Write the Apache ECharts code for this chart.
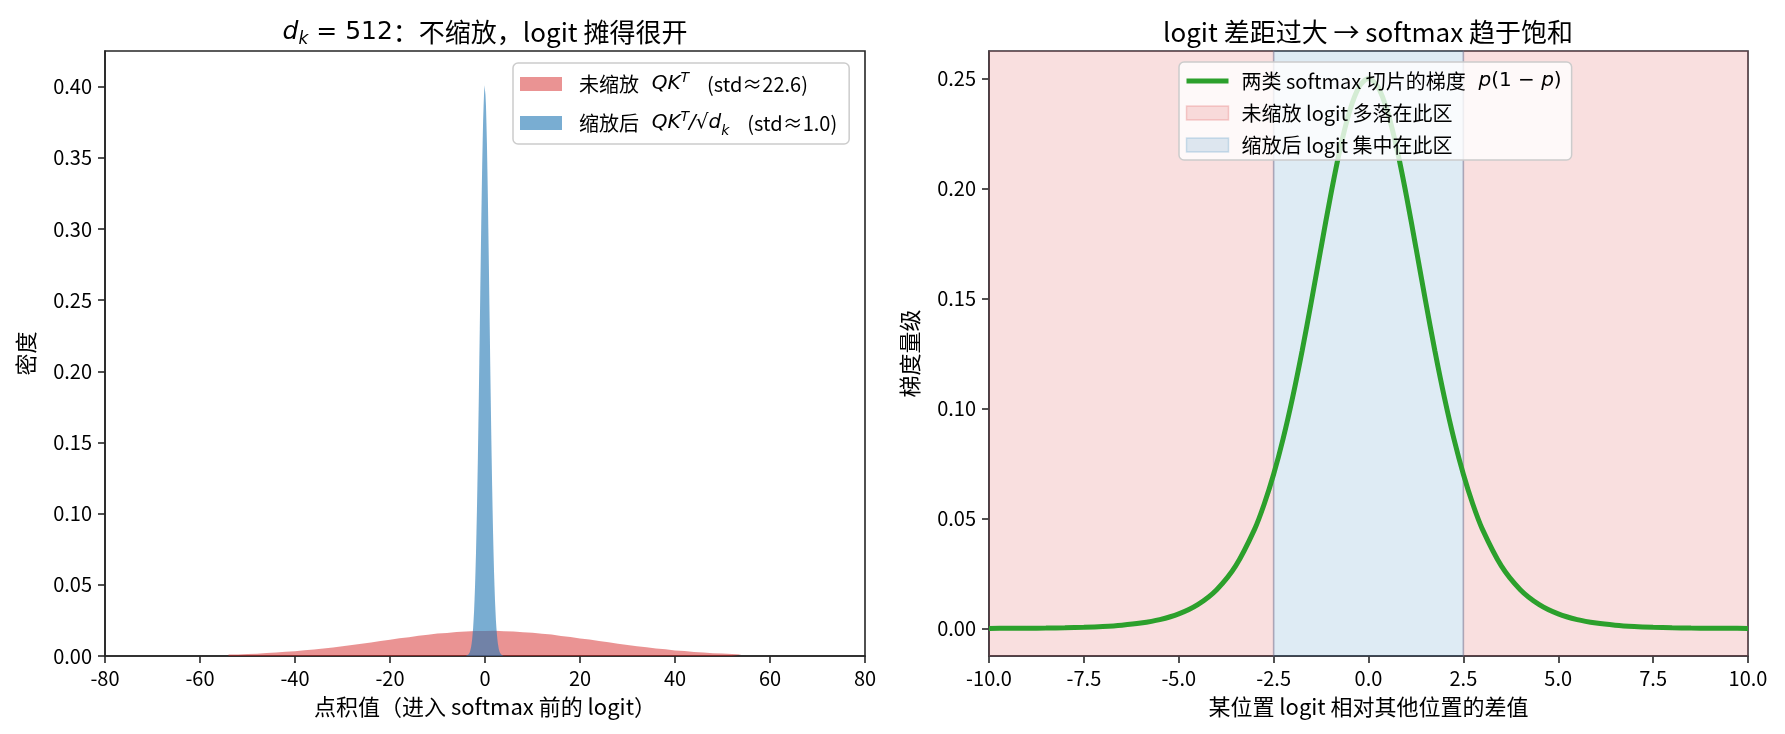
<!DOCTYPE html>
<html>
<head>
<meta charset="utf-8">
<script src="https://cdn.jsdelivr.net/npm/echarts@6/dist/echarts.min.js"></script>
<style>
html,body{margin:0;padding:0;background:#fff;}
#chart{width:1785px;height:734px;}
</style>
</head>
<body>
<div id="chart"></div>
<script>
// ---------- data ----------
// Left: histogram of unscaled QK^T (bin width 2, first bin edge -54)
const redBinStart = -54;
const redBinWidth = 2;
const redDensity = [
  0.00110,0.00140,0.00165,0.00205,0.00240,0.00292,0.00338,0.00401,0.00458,0.00535,
  0.00604,0.00693,0.00770,0.00869,0.00951,0.01058,0.01141,0.01245,0.01324,0.01421,
  0.01490,0.01573,0.01624,0.01689,0.01715,0.01756,0.01760,
  0.01767,0.01744,0.01728,0.01676,0.01636,0.01561,0.01503,0.01410,0.01337,0.01234,
  0.01152,0.01046,0.00963,0.00860,0.00781,0.00684,0.00612,0.00527,0.00466,0.00394,
  0.00343,0.00286,0.00246,0.00200,0.00170,0.00136,0.00112
];
// Left: histogram of scaled QK^T/sqrt(d_k) (bin width 0.1, first bin edge -4)
const blueBinStart = -4;
const blueBinWidth = 0.1;
const blueDensity = [
  0.0001,0.0002,0.0003,0.0005,0.0007,0.0010,0.0016,0.0021,0.0027,0.0039,
  0.0052,0.0068,0.0092,0.0118,0.0156,0.0197,0.0254,0.0315,0.0397,0.0486,
  0.0598,0.0719,0.0866,0.1021,0.1203,0.1391,0.1608,0.1822,0.2063,0.2295,
  0.2546,0.2776,0.3016,0.3226,0.3433,0.3601,0.3757,0.3861,0.3950,0.4010,
  0.3975,0.3941,0.3870,0.3748,0.3609,0.3425,0.3234,0.3007,0.2784,0.2537,
  0.2302,0.2055,0.1829,0.1600,0.1397,0.1197,0.1026,0.0860,0.0723,0.0594,
  0.0490,0.0393,0.0319,0.0250,0.0199,0.0154,0.0120,0.0090,0.0070,0.0050,
  0.0038,0.0027,0.0020,0.0014,0.0010,0.0007,0.0004,0.0003,0.0002,0.0001
];
// Right: gradient curve p(1-p)
const gradX = [-10,-9.5,-9,-8.5,-8,-7.5,-7,-6.5,-6,-5.5,-5,-4.5,-4,-3.5,-3,-2.75,-2.5,-2.25,-2,-1.75,-1.5,-1.25,-1,-0.75,-0.5,-0.25,0,
  0.25,0.5,0.75,1,1.25,1.5,1.75,2,2.25,2.5,2.75,3,3.5,4,4.5,5,5.5,6,6.5,7,7.5,8,8.5,9,9.5,10];
const gradY = [0.00005,0.00007,0.00012,0.00020,0.00034,0.00055,0.00091,0.00150,0.00247,0.00405,0.00665,0.01087,0.01766,0.02845,0.04518,0.05648,0.07011,0.08626,0.10499,0.12613,0.14915,0.17310,0.19661,0.21789,0.23500,0.24613,0.25000,
  0.24613,0.23500,0.21789,0.19661,0.17310,0.14915,0.12613,0.10499,0.08626,0.07011,0.05648,0.04518,0.02845,0.01766,0.01087,0.00665,0.00405,0.00247,0.00150,0.00091,0.00055,0.00034,0.00020,0.00012,0.00007,0.00005];
// Right: shaded regions [from, to]
const wideSpans = [[-10,-2.5],[2.5,10]];
const narrowSpans = [[-2.5,2.5]];
// tick labels
const leftYTicks = [0,0.05,0.10,0.15,0.20,0.25,0.30,0.35,0.40];
const rightYTicks = [0,0.05,0.10,0.15,0.20,0.25];

// ---------- names ----------
const N_RED = '未缩放 QKᵀ (std≈22.6)';
const N_BLUE = '缩放后 QKᵀ/√dₖ (std≈1.0)';
const N_GRAD = '两类 softmax 切片的梯度 p(1−p)';
const N_WIDE = '未缩放 logit 多落在此区';
const N_NARROW = '缩放后 logit 集中在此区';

const FF = "'Noto Sans CJK SC', 'DejaVu Sans', sans-serif";
const MF = "'DejaVu Sans', sans-serif";
const INK = '#262626';

function stepData(start, w, arr){
  const d = arr.map((v,i)=>[start + i*w, v]);
  d.push([start + arr.length*w, arr[arr.length-1]]);
  return d;
}
function spanRender(fill, stroke){
  return function(params, api){
    const cs = params.coordSys;
    const a = api.coord([api.value(0), 0]);
    const b = api.coord([api.value(1), 0]);
    return {type:'rect', shape:{x:a[0], y:cs.y, width:b[0]-a[0], height:cs.height},
            style:{fill:fill, stroke:stroke, lineWidth:1.5}};
  };
}

const legendRichL = {
  g:{width:12, fontSize:20, lineHeight:30},
  c:{fontFamily:FF, fontSize:20, lineHeight:30, color:'#000'},
  m:{fontFamily:MF, fontStyle:'italic', fontSize:20, lineHeight:30, color:'#000'},
  sup:{fontFamily:MF, fontStyle:'italic', fontSize:14, lineHeight:16, verticalAlign:'top', padding:[2,0,0,0], color:'#000'},
  sub:{fontFamily:MF, fontStyle:'italic', fontSize:14, lineHeight:16, verticalAlign:'bottom', color:'#000'},
  r:{fontFamily:MF, fontSize:20, lineHeight:30, color:'#000'},
  t:{fontFamily:FF, fontSize:20, lineHeight:30, color:'#000'}
};
const legendTextL = {};
legendTextL[N_RED] = '{g| }{c|未缩放}{m|  QK}{sup|T}{t|    (std≈22.6)}';
legendTextL[N_BLUE] = '{g| }{c|缩放后}{m|  QK}{sup|T}{m|/}{r|√}{m|d}{sub|k}{t|    (std≈1.0)}';

const legendRichR = {
  g:{width:8, fontSize:20, lineHeight:26},
  c:{fontFamily:FF, fontSize:20, lineHeight:26, color:'#000'},
  mi:{fontFamily:MF, fontStyle:'italic', fontSize:20, lineHeight:26, color:'#000'},
  m:{fontFamily:MF, fontSize:20, lineHeight:26, color:'#000'}
};
const legendTextR = {};
legendTextR[N_GRAD] = '{g| }{c|两类 softmax 切片的梯度}{m|  }{mi|p}{m|(1 − }{mi|p}{m|)}';
legendTextR[N_WIDE] = '{g| }{c|未缩放 logit 多落在此区}';
legendTextR[N_NARROW] = '{g| }{c|缩放后 logit 集中在此区}';

const axisCommon = {
  axisLine:{show:true, onZero:false, lineStyle:{color:INK, width:1.6}},
  axisTick:{show:true, inside:false, length:7, lineStyle:{color:INK, width:1.6}},
  splitLine:{show:false},
  nameTextStyle:{fontFamily:FF, fontSize:22, color:'#000'}
};

const chart = echarts.init(document.getElementById('chart'), null, {renderer:'canvas'});
chart.setOption({
  animation:false,
  backgroundColor:'#ffffff',
  title:[
    {text:'{mi|d}{sub|k}{m| = 512}{c|：不缩放，logit 摊得很开}', left:485, top:16, padding:0, textAlign:'center',
     textStyle:{fontFamily:FF, fontSize:26, fontWeight:'normal', color:'#000', rich:{
       mi:{fontFamily:MF, fontStyle:'italic', fontWeight:'normal', fontSize:25, lineHeight:32, color:'#000'},
       sub:{fontFamily:MF, fontStyle:'italic', fontWeight:'normal', fontSize:17, lineHeight:20, verticalAlign:'bottom', color:'#000'},
       m:{fontFamily:MF, fontWeight:'normal', fontSize:25, lineHeight:32, color:'#000'},
       c:{fontFamily:FF, fontWeight:'normal', fontSize:26, lineHeight:32, color:'#000'}}}},
    {text:'logit 差距过大 → softmax 趋于饱和', left:1368, top:16, padding:0, textAlign:'center',
     textStyle:{fontFamily:FF, fontSize:26, fontWeight:'normal', color:'#000', lineHeight:32}}
  ],
  grid:[
    {left:105, top:51, width:760, height:605, show:true, borderColor:INK, borderWidth:1.6, backgroundColor:'transparent', containLabel:false},
    {left:989, top:51, width:759, height:605, show:true, borderColor:INK, borderWidth:1.6, backgroundColor:'transparent', containLabel:false}
  ],
  xAxis:[
    Object.assign({}, axisCommon, {type:'value', gridIndex:0, min:-80, max:80, interval:20,
      name:'点积值（进入 softmax 前的 logit）', nameLocation:'middle', nameGap:40,
      axisLabel:{fontFamily:FF, fontSize:20, color:'#000', margin:12, formatter:v=>String(v)}}),
    Object.assign({}, axisCommon, {type:'value', gridIndex:1, min:-10, max:10, interval:2.5,
      name:'某位置 logit 相对其他位置的差值', nameLocation:'middle', nameGap:40,
      axisLabel:{fontFamily:FF, fontSize:20, color:'#000', margin:12, formatter:v=>v.toFixed(1)}})
  ],
  yAxis:[
    Object.assign({}, axisCommon, {type:'value', gridIndex:0, min:0, max:0.425,
      name:'密度', nameLocation:'middle', nameGap:68,
      axisTick:{show:true, length:7, customValues:leftYTicks, lineStyle:{color:INK, width:1.6}},
      axisLabel:{fontFamily:FF, fontSize:20, color:'#000', margin:13, customValues:leftYTicks, formatter:v=>v.toFixed(2)}}),
    Object.assign({}, axisCommon, {type:'value', gridIndex:1, min:-0.0125, max:0.2625,
      name:'梯度量级', nameLocation:'middle', nameGap:68,
      axisTick:{show:true, length:7, customValues:rightYTicks, lineStyle:{color:INK, width:1.6}},
      axisLabel:{fontFamily:FF, fontSize:20, color:'#000', margin:13, customValues:rightYTicks, formatter:v=>v.toFixed(2)}})
  ],
  legend:[
    {orient:'vertical', left:513, top:63, z:10, itemWidth:42, itemHeight:14, itemGap:14,
     padding:[6,12,6,7], backgroundColor:'rgba(255,255,255,0.8)', borderColor:'#cccccc', borderWidth:1.5, borderRadius:5,
     data:[{name:N_RED, icon:'rect', itemStyle:{color:'rgba(214,39,40,0.5)'}},
           {name:N_BLUE, icon:'rect', itemStyle:{color:'rgba(31,119,180,0.6)'}}],
     formatter:n=>legendTextL[n], textStyle:{fontFamily:FF, fontSize:20, color:'#000', rich:legendRichL},
     selectedMode:false},
    {orient:'vertical', left:1179, top:62, z:10, itemWidth:42, itemHeight:14, itemGap:12,
     padding:[9,10,5,5], backgroundColor:'rgba(255,255,255,0.8)', borderColor:'#cccccc', borderWidth:1.5, borderRadius:5,
     data:[{name:N_GRAD, itemStyle:{opacity:0}, lineStyle:{width:5, color:'#2ca02c'}},
           {name:N_WIDE, icon:'rect', itemStyle:{color:'rgba(214,39,40,0.15)', borderColor:'rgba(214,39,40,0.2)', borderWidth:1.5}},
           {name:N_NARROW, icon:'rect', itemStyle:{color:'rgba(31,119,180,0.15)', borderColor:'rgba(31,119,180,0.2)', borderWidth:1.5}}],
     formatter:n=>legendTextR[n], textStyle:{fontFamily:FF, fontSize:20, color:'#000', rich:legendRichR},
     selectedMode:false}
  ],
  series:[
    {name:N_RED, type:'line', xAxisIndex:0, yAxisIndex:0, step:'end', symbol:'none', z:2,
     data:stepData(redBinStart, redBinWidth, redDensity),
     lineStyle:{width:0, color:'rgba(214,39,40,0.5)'}, itemStyle:{color:'rgba(214,39,40,0.5)'},
     areaStyle:{color:'rgba(214,39,40,0.5)', opacity:1}},
    {name:N_BLUE, type:'line', xAxisIndex:0, yAxisIndex:0, step:'end', symbol:'none', z:3,
     data:stepData(blueBinStart, blueBinWidth, blueDensity),
     lineStyle:{width:0, color:'rgba(31,119,180,0.6)'}, itemStyle:{color:'rgba(31,119,180,0.6)'},
     areaStyle:{color:'rgba(31,119,180,0.6)', opacity:1}},
    {name:N_WIDE, type:'custom', xAxisIndex:1, yAxisIndex:1, z:1,
     itemStyle:{color:'rgba(214,39,40,0.15)'},
     renderItem:spanRender('rgba(214,39,40,0.15)','rgba(150,120,140,0.35)'), data:wideSpans},
    {name:N_NARROW, type:'custom', xAxisIndex:1, yAxisIndex:1, z:1,
     itemStyle:{color:'rgba(31,119,180,0.15)'},
     renderItem:spanRender('rgba(31,119,180,0.15)','rgba(110,120,150,0.35)'), data:narrowSpans},
    {name:N_GRAD, type:'line', xAxisIndex:1, yAxisIndex:1, smooth:0.3, symbol:'none', z:3,
     data:gradX.map((x,i)=>[x, gradY[i]]),
     lineStyle:{width:5, color:'#2ca02c'}, itemStyle:{color:'#2ca02c'}}
  ]
});
</script>
</body>
</html>
